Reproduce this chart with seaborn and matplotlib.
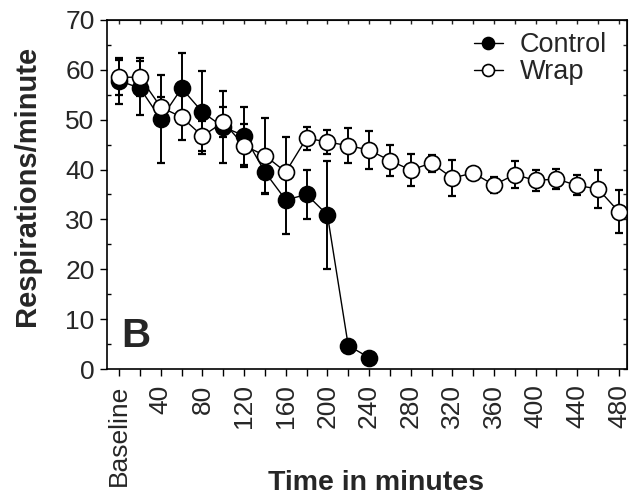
import numpy as np
import pandas as pd
import matplotlib
matplotlib.use('Agg')
import matplotlib.pyplot as plt
from matplotlib.ticker import MultipleLocator, FixedLocator
import seaborn as sns

# dati (minuti; 0 = baseline)
minutes = [0, 20, 40, 60, 80, 100, 120, 140, 160, 180, 200, 220, 240,
           260, 280, 300, 320, 340, 360, 380, 400, 420, 440, 460, 480]
tick_labels = ['Baseline', '40', '80', '120', '160', '200', '240',
               '280', '320', '360', '400', '440', '480']

control_mean = [57.8, 56.3, 50.1, 56.3, 51.5, 48.5, 46.8, 39.5, 33.9, 35.0, 30.9, 4.7, 2.3]
control_err = [4.6, 5.4, 8.8, 7.0, 8.3, 7.2, 5.8, 4.4, 6.9, 5.0, 10.9, 0.0, 0.0]

wrap_mean = [58.5, 58.5, 52.5, 50.5, 46.7, 49.5, 44.8, 42.8, 39.5, 46.3, 45.5, 44.8, 43.9,
             41.8, 39.9, 41.3, 38.3, 39.3, 36.9, 39.0, 37.8, 38.1, 36.8, 36.1, 31.5]
wrap_err = [3.5, 3.8, 2.0, 4.5, 3.0, 3.0, 4.3, 7.5, 7.0, 2.3, 2.4, 3.5, 3.8,
            3.2, 3.3, 1.7, 3.7, 1.0, 1.6, 2.7, 2.1, 2.0, 2.0, 3.9, 4.3]

################################################################################

sns.set_style('ticks')
plt.rcParams['font.family'] = ['Liberation Sans', 'DejaVu Sans']

control_df = pd.DataFrame({'pos': np.arange(len(control_mean)), 'resp': control_mean, 'err': control_err})
wrap_df = pd.DataFrame({'pos': np.arange(len(wrap_mean)), 'resp': wrap_mean, 'err': wrap_err})

fig = plt.figure(figsize=(6.3, 4.97), dpi=100)
ax = fig.add_axes([0.170, 0.2575, 0.825, 0.7025])

# barre d'errore sotto i marker
ax.errorbar(control_df['pos'], control_df['resp'], yerr=control_df['err'], fmt='none',
            ecolor='black', elinewidth=1.4, capsize=3, capthick=1.6, zorder=1)
ax.errorbar(wrap_df['pos'], wrap_df['resp'], yerr=wrap_df['err'], fmt='none',
            ecolor='black', elinewidth=1.4, capsize=3, capthick=1.6, zorder=1)

sns.lineplot(data=control_df, x='pos', y='resp', ax=ax, color='black', linewidth=1.0,
             marker='o', markersize=11.5, markerfacecolor='black', markeredgecolor='black',
             markeredgewidth=1.2, label='Control', zorder=3)
sns.lineplot(data=wrap_df, x='pos', y='resp', ax=ax, color='black', linewidth=1.0,
             marker='o', markersize=11.5, markerfacecolor='white', markeredgecolor='black',
             markeredgewidth=1.2, label='Wrap', zorder=4)

ax.set_xlim(-0.58, 24.38)
ax.set_ylim(0, 70)

ax.xaxis.set_major_locator(FixedLocator(np.arange(0, len(minutes), 2)))
ax.xaxis.set_minor_locator(FixedLocator(np.arange(1, len(minutes), 2)))
ax.set_xticklabels(tick_labels, rotation=90, fontsize=19)
ax.yaxis.set_major_locator(MultipleLocator(10))
ax.yaxis.set_minor_locator(MultipleLocator(5))
ax.tick_params(axis='y', labelsize=19, pad=4)
ax.tick_params(axis='x', pad=6)
ax.tick_params(axis='both', which='major', direction='out', length=5, width=1, color='black')
ax.tick_params(axis='x', which='minor', direction='out', length=5, width=1, color='black')
ax.tick_params(axis='y', which='minor', direction='in', length=3, width=1, color='black')

# tacche interne sopra e a destra
top = ax.secondary_xaxis('top')
top.xaxis.set_major_locator(FixedLocator(np.arange(0, len(minutes), 1)))
top.tick_params(direction='in', length=3, width=1, labeltop=False)
right = ax.secondary_yaxis('right')
right.yaxis.set_major_locator(MultipleLocator(5))
right.tick_params(direction='in', length=3, width=1, labelright=False)

for sp in ax.spines.values():
    sp.set_visible(True)
    sp.set_color('black')
    sp.set_linewidth(1.2)

# etichette degli assi posizionate a mano
ax.set_xlabel('')
ax.set_ylabel('')
fig.text(376 / 630, 1.5 / 497, 'Time in minutes', fontsize=20.5, fontweight='bold',
         ha='center', va='bottom')
fig.text(27 / 630, 1 - 185.5 / 497, 'Respirations/minute', fontsize=21, fontweight='bold',
         rotation=90, ha='center', va='center')

ax.text(0.1, 4.4, 'B', fontsize=29, fontweight='bold', ha='left', va='baseline')

ax.legend(loc='upper right', bbox_to_anchor=(0.9615, 0.965), frameon=False, fontsize=19.5,
          borderpad=0, borderaxespad=0, handlelength=1.1, handletextpad=0.6,
          labelspacing=0.05, markerscale=0.75)

fig.savefig('out.png', dpi=100)
